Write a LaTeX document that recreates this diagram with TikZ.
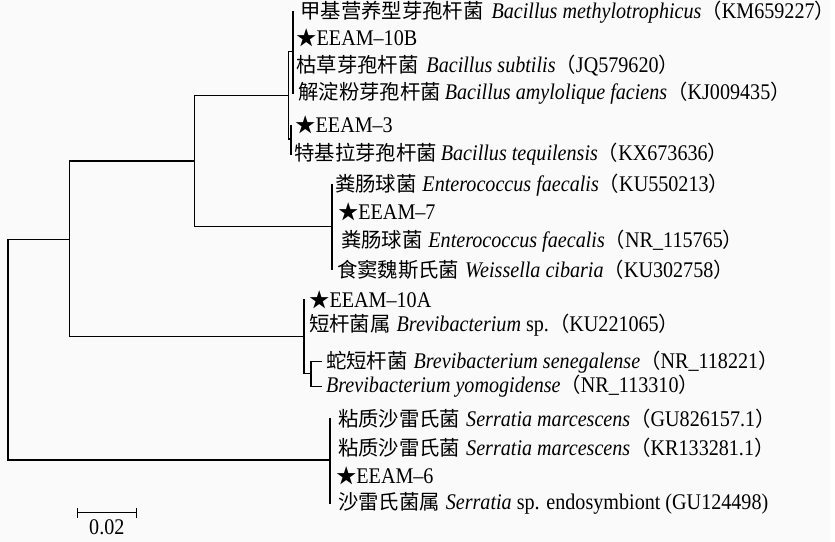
\documentclass[tikz,border=0pt]{standalone}
\usepackage{fontspec}
\setmainfont{Liberation Serif}[FakeStretch=0.9]
\newfontfamily\zhfont{Noto Sans CJK SC}
\usetikzlibrary{positioning, calc, arrows.meta}
\definecolor{paper}{RGB}{250,250,250}
\newcommand{\zh}[1]{{\zhfont\fontsize{20.5}{24}\selectfont #1}}
\newcommand{\strain}[1]{\zh{★}#1}
\tikzset{
	branch/.style={line width=1.3pt, line cap=rect},
	leaf/.style={inner sep=0pt, font=\fontsize{22.5}{24}\selectfont},
}

\begin{document}
\begin{tikzpicture}[x=1pt, y=-1pt]
			\fill[paper] (0,0) rectangle (835,545);
			% inner nodes
			\coordinate (r) at (8,352);
			\coordinate (nA) at (70,241);
			\coordinate (nB) at (196,162);
			\coordinate (nC) at (290,96);
			\coordinate (nC1) at (295,52);
			\coordinate (nC2) at (293,140);
			\coordinate (nD) at (334,228);
			\coordinate (nE) at (306,339);
			\coordinate (nE2) at (313,376);
			\coordinate (nF) at (332,463);
			% leaves
			\coordinate (l1) at (295,12);
			\coordinate (l2) at (295,38);
			\coordinate (l3) at (295,66);
			\coordinate (l4) at (295,94);
			\coordinate (l5) at (293,126);
			\coordinate (l6) at (293,155);
			\coordinate (l7) at (334,186);
			\coordinate (l8) at (334,213);
			\coordinate (l9) at (334,243);
			\coordinate (l10) at (334,271);
			\coordinate (l11) at (306,302);
			\coordinate (l12) at (306,327);
			\coordinate (l13) at (323,364);
			\coordinate (l14) at (323,389);
			\coordinate (l15) at (332,421);
			\coordinate (l16) at (332,451);
			\coordinate (l17) at (332,479);
			\coordinate (l18) at (332,507);
			
			\node (t1) [leaf, right=7pt of l1] {\zh{甲基营养型芽孢杆菌}\hspace{8pt}\textit{Bacillus methylotrophicus}\zh{（}KM659227\zh{）}};
			\node (t2) [leaf, right=3pt of l2] {\strain{EEAM–10B}};
			\node (t3) [leaf, right=3pt of l3] {\zh{枯草芽孢杆菌}\hspace{8pt}\textit{Bacillus subtilis}\zh{（}JQ579620\zh{）}};
			\node (t4) [leaf, right=5pt of l4] {\zh{解淀粉芽孢杆菌}\hspace{4pt}\textit{Bacillus amylolique faciens}\zh{（}KJ009435\zh{）}};
			\node (t5) [leaf, right=4pt of l5] {\strain{EEAM–3}};
			\node (t6) [leaf, right=3pt of l6] {\zh{特基拉芽孢杆菌}\hspace{4pt}\textit{Bacillus tequilensis}\zh{（}KX673636\zh{）}};
			\node (t7) [leaf, right=3pt of l7] {\zh{粪肠球菌}\hspace{6pt}\textit{Enterococcus faecalis}\zh{（}KU550213\zh{）}};
			\node (t8) [leaf, right=6pt of l8] {\strain{EEAM–7}};
			\node (t9) [leaf, right=9pt of l9] {\zh{粪肠球菌}\hspace{6pt}\textit{Enterococcus faecalis}\zh{（}NR\_115765\zh{）}};
			\node (t10) [leaf, right=5pt of l10] {\zh{食窦魏斯氏菌}\hspace{6pt}\textit{Weissella cibaria}\zh{（}KU302758\zh{）}};
			\node (t11) [leaf, right=5pt of l11] {\strain{EEAM–10A}};
			\node (t12) [leaf, right=5pt of l12] {\zh{短杆菌属}\hspace{6pt}\textit{Brevibacterium} sp.\zh{（}KU221065\zh{）}};
			\node (t13) [leaf, right=5pt of l13] {\zh{蛇短杆菌}\hspace{6pt}\textit{Brevibacterium senegalense}\zh{（}NR\_118221\zh{）}};
			\node (t14) [leaf, right=5pt of l14] {\textit{Brevibacterium yomogidense}\zh{（}NR\_113310\zh{）}};
			\node (t15) [leaf, right=8pt of l15] {\zh{粘质沙雷氏菌}\hspace{6pt}\textit{Serratia marcescens}\zh{（}GU826157.1\zh{）}};
			\node (t16) [leaf, right=8pt of l16] {\zh{粘质沙雷氏菌}\hspace{6pt}\textit{Serratia marcescens}\zh{（}KR133281.1\zh{）}};
			\node (t17) [leaf, right=6pt of l17] {\strain{EEAM–6}};
			\node (t18) [leaf, right=8pt of l18] {\zh{沙雷氏菌属}\hspace{6pt}\textit{Serratia} sp. endosymbiont (GU124498)};
			
			\draw [branch] (r) |- (nA);
			\draw [branch] (r) |- (nF);
			\draw [branch] (nA) |- (nB);
			\draw [branch] (nA) |- (nE);
			\draw [branch] (nB) |- (nC);
			\draw [branch] (nB) |- (nD);
			\draw [branch] (nC) |- (nC1);
			\draw [branch] (nC) |- (nC2);
			\draw [branch] (nC1) |- (l1);
			\draw [branch] (nC1) |- (l4);
			\draw [branch] (nC2) |- (l5);
			\draw [branch] (nC2) |- (l6);
			\draw [branch] (nD) |- (l7);
			\draw [branch] (nD) |- (l10);
			\draw [branch] (nE) |- (l11);
			\draw [branch] (nE) |- (nE2);
			\draw [branch] (nE2) |- (l13);
			\draw [branch] (nE2) |- (l14);
			\draw [branch] (nF) |- (l15);
			\draw [branch] (nF) |- (l18);
			
			% scale bar
			\coordinate (s1) at (77,516);
			\coordinate (s2) at (138,516);
			\coordinate (sm) at ($(s1)!0.5!(s2)$);
			\draw [branch, line cap=butt, {Bar[width=10pt]}-{Bar[width=10pt]}] (s1) -- (s2);
			\node (slabel) [leaf, below=7pt of sm] {0.02};
		\end{tikzpicture}
\end{document}
